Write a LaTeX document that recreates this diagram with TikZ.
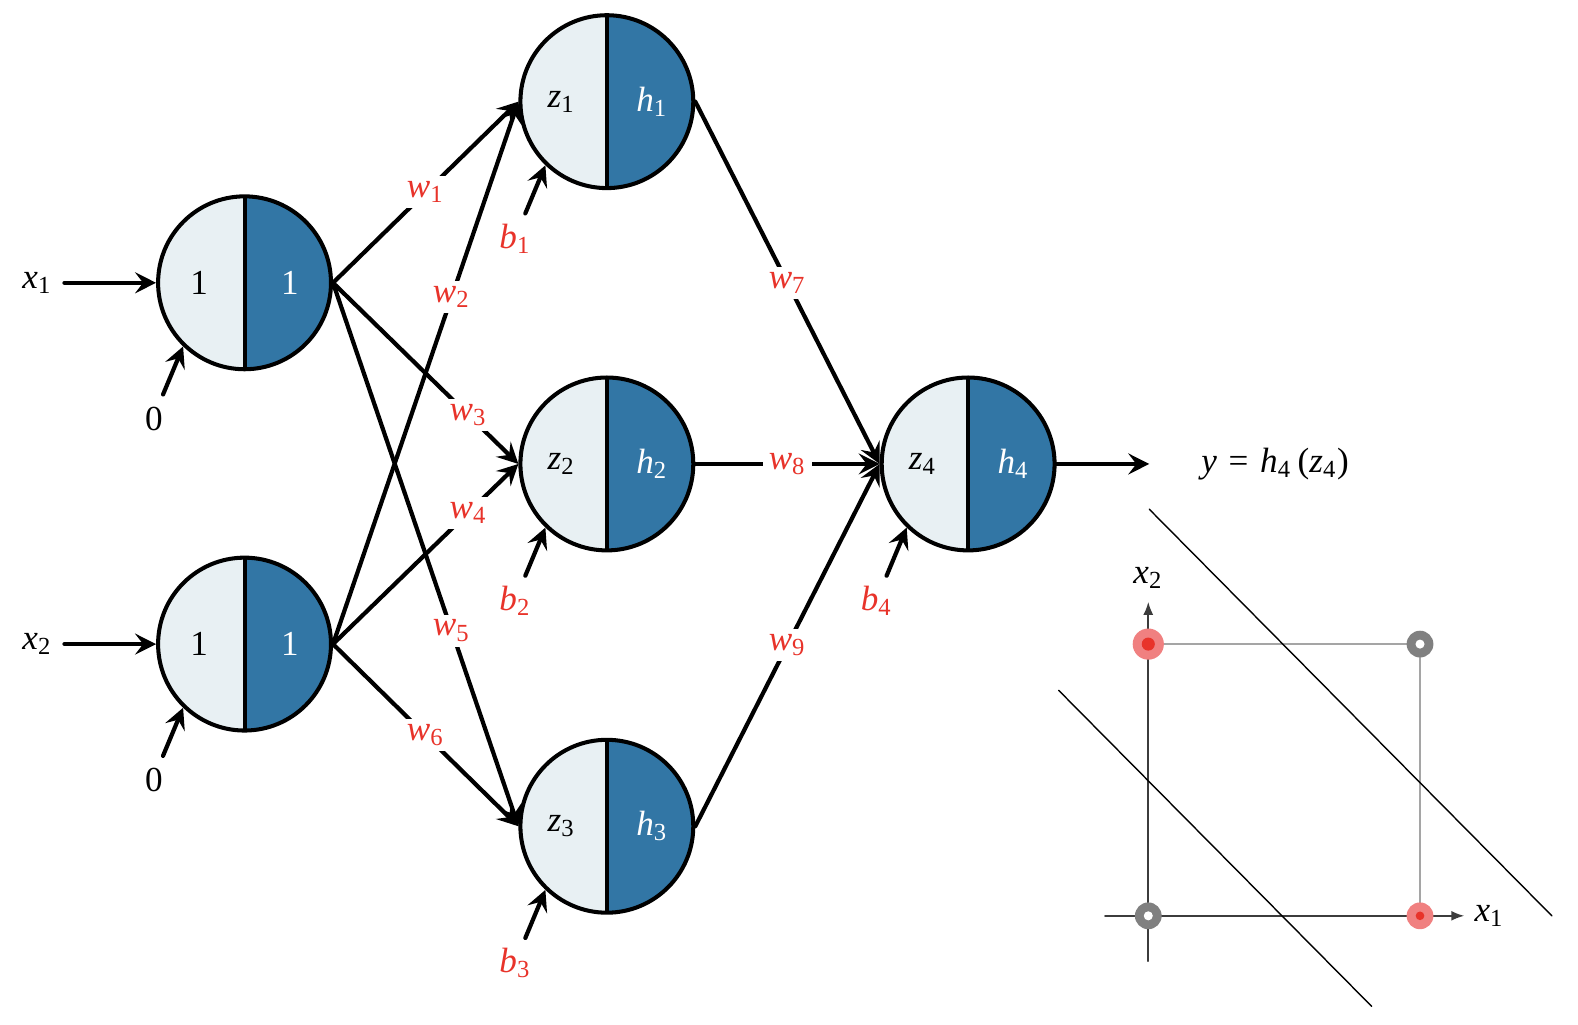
\documentclass[tikz,border=0pt]{standalone}
\usepackage{fontspec}
\setmainfont{Liberation Serif}
\usetikzlibrary{arrows.meta,calc}

\definecolor{zfill}{RGB}{232,240,243}
\definecolor{hfill}{RGB}{50,118,165}
\definecolor{wred}{RGB}{232,51,42}
\definecolor{ptpink}{RGB}{240,128,128}
\definecolor{ptgray}{RGB}{128,128,128}
\definecolor{sqgray}{RGB}{165,165,165}
\definecolor{axgray}{RGB}{60,60,60}

\newcommand{\vs}[2]{\textit{#1}\textsubscript{#2}}

\tikzset{
  neuron/.style={circle,draw,line width=1.15pt,minimum size=1.73cm,inner sep=0pt,
    path picture={
      \fill[zfill] (path picture bounding box.south west) rectangle (path picture bounding box.north);
      \fill[hfill] (path picture bounding box.south) rectangle (path picture bounding box.north east);
      \draw[line width=1.15pt] (path picture bounding box.south) -- (path picture bounding box.north);
    }},
  conn/.style={line width=1.2pt,-{Stealth[length=2.1mm,width=2.1mm,inset=.8mm]}},
  wlab/.style={fill=white,text=wred,inner sep=1.5pt},
  blab/.style={text=wred},
  htext/.style={text=white},
}

\begin{document}
\begin{tikzpicture}[x=0.010064cm,y=-0.010064cm,line cap=round,line join=round,
    every node/.style={font=\fontsize{10}{12}\selectfont}]
  \useasboundingbox (0,0) rectangle (1568,1018);

  % neurons
  \node[neuron] (in1) at (243,281) {};
  \node[neuron] (in2) at (243,640) {};
  \node[neuron] (h1) at (603,101) {};
  \node[neuron] (h2) at (603,461) {};
  \node[neuron] (h3) at (603,821) {};
  \node[neuron] (out) at (962,461) {};

  \node (in1z) at ($(in1)+(-45,0)$) {1};
  \node[htext] (in1h) at ($(in1)+(45,0)$) {1};
  \node (in2z) at ($(in2)+(-45,0)$) {1};
  \node[htext] (in2h) at ($(in2)+(45,0)$) {1};
  \node (h1z) at ($(h1)+(-45,0)$) {\vs{z}{1}};
  \node[htext] (h1h) at ($(h1)+(45,0)$) {\vs{h}{1}};
  \node (h2z) at ($(h2)+(-45,0)$) {\vs{z}{2}};
  \node[htext] (h2h) at ($(h2)+(45,0)$) {\vs{h}{2}};
  \node (h3z) at ($(h3)+(-45,0)$) {\vs{z}{3}};
  \node[htext] (h3h) at ($(h3)+(45,0)$) {\vs{h}{3}};
  \node (outz) at ($(out)+(-45,0)$) {\vs{z}{4}};
  \node[htext] (outh) at ($(out)+(45,0)$) {\vs{h}{4}};

  % inputs and output
  \node (x1) at (37,281) {\vs{x}{1}};
  \node (x2) at (37,640) {\vs{x}{2}};
  \draw[conn] (x1) -- (in1);
  \draw[conn] (x2) -- (in2);
  \coordinate (yend) at (1142,461);
  \draw[conn] (out.east) -- (yend);
  \node (yout) at (1267,461) {\textit{y}\,\,=\,\,\vs{h}{4}\,(\vs{z}{4})};

  % weights
  \draw[conn] (in1.east) -- node[wlab,pos=.5] {\vs{w}{1}} (h1.west);
  \draw[conn] (in2.east) -- node[wlab,pos=.64] {\vs{w}{2}} (h1.west);
  \draw[conn] (in1.east) -- node[wlab,pos=.73] {\vs{w}{3}} (h2.west);
  \draw[conn] (in2.east) -- node[wlab,pos=.73] {\vs{w}{4}} (h2.west);
  \draw[conn] (in1.east) -- node[wlab,pos=.64] {\vs{w}{5}} (h3.west);
  \draw[conn] (in2.east) -- node[wlab,pos=.5] {\vs{w}{6}} (h3.west);
  \draw[conn] (h1.east) -- node[wlab,pos=.5] {\vs{w}{7}} (out.west);
  \draw[conn] (h2.east) -- node[wlab,pos=.5] {\vs{w}{8}} (out.west);
  \draw[conn] (h3.east) -- node[wlab,pos=.5] {\vs{w}{9}} (out.west);

  % biases
  \coordinate (s1) at ($(in1)+(-81,111)$);
  \coordinate (s2) at ($(in2)+(-81,111)$);
  \coordinate (s3) at ($(h1)+(-81,111)$);
  \coordinate (s4) at ($(h2)+(-81,111)$);
  \coordinate (s5) at ($(h3)+(-81,111)$);
  \coordinate (s6) at ($(out)+(-81,111)$);
  \draw[conn] (s1) -- (in1.226);
  \draw[conn] (s2) -- (in2.226);
  \draw[conn] (s3) -- (h1.226);
  \draw[conn] (s4) -- (h2.226);
  \draw[conn] (s5) -- (h3.226);
  \draw[conn] (s6) -- (out.226);
  \node (bin1) at ($(in1)+(-90,135)$) {0};
  \node (bin2) at ($(in2)+(-90,135)$) {0};
  \node[blab] (b1) at ($(h1)+(-91,136)$) {\vs{b}{1}};
  \node[blab] (b2) at ($(h2)+(-91,136)$) {\vs{b}{2}};
  \node[blab] (b3) at ($(h3)+(-91,136)$) {\vs{b}{3}};
  \node[blab] (b4) at ($(out)+(-91,136)$) {\vs{b}{4}};

  % xor plane
  \draw[sqgray,line width=.5pt] (1141,640) -- (1411,640) -- (1411,910);
  \draw[axgray,line width=.5pt,-{Latex[length=1.3mm,width=1mm]}] (1098,910) -- (1455,910);
  \draw[axgray,line width=.5pt,-{Latex[length=1.3mm,width=1mm]}] (1141,955) -- (1141,598);
  \node (ax1) at (1480,910) {\vs{x}{1}};
  \node (ax2) at (1141,574) {\vs{x}{2}};
  \draw[line width=.4pt] (1142,506) -- (1542,910);
  \draw[line width=.4pt] (1052,686) -- (1363,1000);
  \fill[ptpink] (1141,640) circle[radius=15.5];
  \fill[wred] (1141,640) circle[radius=6.5];
  \fill[ptpink] (1411,910) circle[radius=13.3];
  \fill[wred] (1411,910) circle[radius=4.3];
  \fill[ptgray] (1411,640) circle[radius=13.3];
  \fill[white] (1411,640) circle[radius=4.5];
  \fill[ptgray] (1141,910) circle[radius=13.3];
  \fill[white] (1141,910) circle[radius=4.5];
\end{tikzpicture}
\end{document}
